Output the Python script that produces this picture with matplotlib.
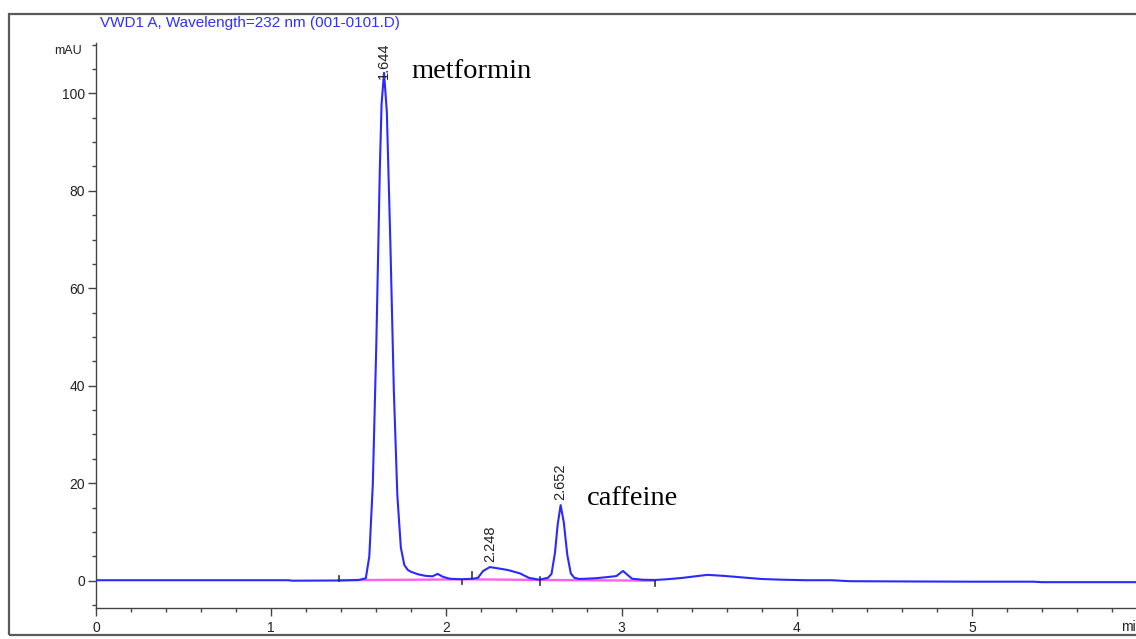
import numpy as np
import matplotlib
matplotlib.use("Agg")
import matplotlib.pyplot as plt
from matplotlib.patches import Rectangle
from matplotlib.ticker import MultipleLocator

# ---- data ----
time_min = [0.00, 0.50, 1.10, 1.12, 1.40, 1.50, 1.54, 1.56, 1.58, 1.60, 1.62, 1.63,
            1.644, 1.66, 1.68, 1.70, 1.72, 1.74, 1.76, 1.78, 1.80, 1.84, 1.88, 1.92,
            1.95, 1.98, 2.02, 2.08, 2.15, 2.18, 2.21, 2.248, 2.30, 2.35, 2.42, 2.47,
            2.53, 2.58, 2.60, 2.62, 2.635, 2.652, 2.67, 2.69, 2.71, 2.73, 2.76, 2.85,
            2.92, 2.97, 3.008, 3.04, 3.06, 3.12, 3.19, 3.26, 3.34, 3.42, 3.49, 3.58,
            3.68, 3.80, 3.92, 4.05, 4.20, 4.30, 4.60, 5.00, 5.35, 5.40, 6.00]
signal_mau = [0.1, 0.1, 0.1, 0.0, 0.05, 0.15, 0.5, 5.0, 19.8, 48.5, 84.4, 97.8,
              104.2, 96.2, 69.5, 39.0, 17.5, 6.8, 3.2, 2.2, 1.8, 1.3, 1.0, 0.9,
              1.4, 0.8, 0.4, 0.3, 0.4, 0.6, 2.0, 2.8, 2.5, 2.2, 1.5, 0.6,
              0.2, 0.6, 1.4, 5.8, 11.5, 15.5, 12.0, 5.3, 1.5, 0.6, 0.35, 0.5,
              0.75, 0.95, 2.0, 1.0, 0.4, 0.2, 0.15, 0.3, 0.55, 0.9, 1.2, 1.0,
              0.7, 0.35, 0.2, 0.1, 0.1, -0.1, -0.15, -0.2, -0.2, -0.3, -0.3]

baseline_t = [1.385, 2.14, 2.535, 3.19]
baseline_y = [0.10, 0.28, 0.15, 0.0]

# integration event marks: time, low, high
event_t = [1.385, 2.087, 2.144, 2.534, 3.19]
event_lo = [0.0, -0.7, 0.55, -0.9, -1.1]
event_hi = [1.0, 0.0, 1.8, 0.75, -0.1]

peak_rt = [1.644, 2.248, 2.652]
peak_labels = ["1.644", "2.248", "2.652"]

compound_names = ["metformin", "caffeine"]
compound_t = [1.798, 2.802]
compound_y = [104.4, 16.8]

title = "VWD1 A, Wavelength=232 nm (001-0101.D)"
x_ticks = [0, 1, 2, 3, 4, 5]
y_ticks = [0, 20, 40, 60, 80, 100]

# ---- figure ----
W, H = 1136, 639
fig = plt.figure(figsize=(W / 100, H / 100), dpi=100)
plt.rcParams['font.family'] = ['Liberation Sans', 'DejaVu Sans']

def fx(px):
    return px / W

def fy(py):
    return 1 - py / H

# outer frame
fig.patches.append(Rectangle((fx(8.5), fy(634.5)), fx(1200), (634.5 - 13.5) / H,
                             transform=fig.transFigure, fill=False,
                             edgecolor='#5a5a5a', linewidth=1.6, zorder=0))

ax_left, ax_bottom_px = 96, 608.0
ax_w_px = 6.0 * 175.2
ylo, yhi = -5.6, 110.3
ax_h_px = (yhi - ylo) * 4.874
ax = fig.add_axes([fx(ax_left), fy(ax_bottom_px), ax_w_px / W, ax_h_px / H])
ax.set_xlim(0, 6.0)
ax.set_ylim(ylo, yhi)
ax.patch.set_alpha(0)

for s in ['top', 'right']:
    ax.spines[s].set_visible(False)
for s in ['left', 'bottom']:
    ax.spines[s].set_color('#444444')
    ax.spines[s].set_linewidth(1.0)

ax.set_xticks(x_ticks)
ax.set_yticks(y_ticks)
ax.xaxis.set_minor_locator(MultipleLocator(0.2))
ax.yaxis.set_minor_locator(MultipleLocator(5))
ax.tick_params(which='major', length=5.5, width=1.0, color='#444444',
               labelsize=10, labelcolor='#222222', pad=2.5)
ax.tick_params(which='minor', length=3, width=1.0, color='#444444')
ax.tick_params(axis='x', which='major', pad=4)

# baseline and trace
ax.plot(baseline_t, baseline_y, color='#ff44ee', lw=1.7, alpha=0.85, zorder=2)
ax.plot(time_min, signal_mau, color='#2a2aff', lw=1.5, zorder=3)
for t, lo, hi in zip(event_t, event_lo, event_hi):
    ax.plot([t, t], [lo, hi], color='#333333', lw=1.2, zorder=4)

# peak labels
for rt, lab in zip(peak_rt, peak_labels):
    h = float(np.interp(rt, time_min, signal_mau))
    ax.text(rt, min(h + 1.1, 102.9), lab, rotation=90, ha='center', va='bottom',
            fontsize=10.5, color='#222222', zorder=5)

for name, t, y in zip(compound_names, compound_t, compound_y):
    ax.text(t, y, name, ha='left', va='center', fontsize=20.5,
            family=['Liberation Serif', 'DejaVu Serif'], color='black')

fig.text(fx(100), fy(23), title, ha='left', va='center', fontsize=11,
         color='#3030ff')
fig.text(fx(82), fy(51), "mAU", ha='right', va='center', fontsize=9,
         color='#222222')
fig.text(fx(1121), fy(627), "min", ha='left', va='center', fontsize=10,
         color='#222222')

fig.savefig("out.png", dpi=100)
